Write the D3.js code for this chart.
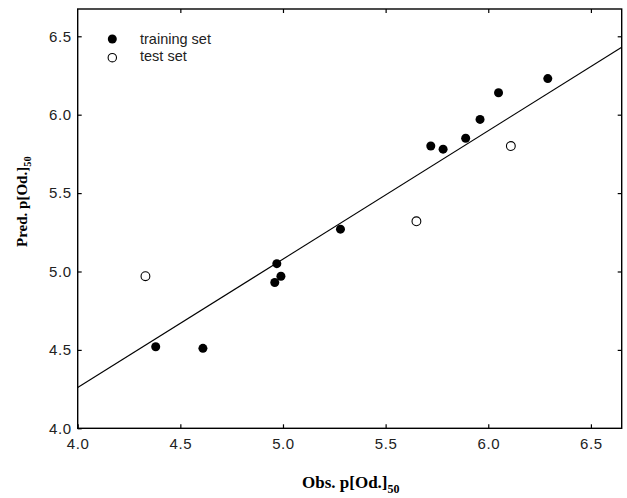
<!DOCTYPE html>
<html>
<head>
<meta charset="utf-8">
<script src="https://cdn.jsdelivr.net/npm/d3@7"></script>
<style>
	body { margin: 0; background: #fff; }
	svg { display: block; }
</style>
</head>
<body>
<svg width="627" height="498"></svg>
<script>
// training set (filled)
var trainObs = [4.38, 4.61, 4.96, 4.97, 4.99, 5.28, 5.72, 5.78, 5.89, 5.96, 6.05, 6.29];
var trainPred = [4.52, 4.51, 4.93, 5.05, 4.97, 5.27, 5.80, 5.78, 5.85, 5.97, 6.14, 6.23];
// test set (open)
var testObs = [4.33, 5.65, 6.11];
var testPred = [4.97, 5.32, 5.80];
// regression line end points
var fitObs = [4.0, 6.65];
var fitPred = [4.26, 6.43];
var xTicks = [4.0, 4.5, 5.0, 5.5, 6.0, 6.5];
var yTicks = [4.0, 4.5, 5.0, 5.5, 6.0, 6.5];
var legendLabels = ["training set", "test set"];

function drawChart() {
	var svg = d3.select("svg"),
		margin = { top: 9, right: 5.3, bottom: 69.7, left: 77.7 },
		width = +svg.attr("width") - margin.left - margin.right,
		height = +svg.attr("height") - margin.top - margin.bottom,
		g = svg.append("g").attr("transform", "translate(" + margin.left + "," + margin.top + ")");

	var x = d3.scaleLinear().domain([4.0, 6.65]).range([0, width]);
	var y = d3.scaleLinear().domain([4.0, 6.674]).range([height, 0]);
	var fmt = d3.format(".1f");

	// axes, ticks pointing inward
	var bottom = g.append("g")
		.attr("transform", "translate(0," + height + ")")
		.call(d3.axisBottom(x).tickValues(xTicks).tickFormat(fmt).tickSizeInner(-4).tickSizeOuter(0).tickPadding(10));
	var left = g.append("g")
		.call(d3.axisLeft(y).tickValues(yTicks).tickFormat(fmt).tickSizeInner(-4).tickSizeOuter(0).tickPadding(6));
	var top = g.append("g")
		.call(d3.axisTop(x).tickValues(xTicks.slice(1)).tickFormat("").tickSizeInner(-4).tickSizeOuter(0));
	var right = g.append("g")
		.attr("transform", "translate(" + width + ",0)")
		.call(d3.axisRight(y).tickValues(yTicks.slice(1)).tickFormat("").tickSizeInner(-4).tickSizeOuter(0));

	[bottom, left, top, right].forEach(function (a) {
		a.select(".domain").remove();
		a.selectAll("line").attr("stroke", "#000").attr("stroke-width", 1.2);
		a.selectAll("text")
			.attr("fill", "#222")
			.attr("font-family", "'Liberation Sans', Arial, sans-serif")
			.attr("font-size", "15px")
			.attr("letter-spacing", "0.6px");
	});

	// frame
	g.append("rect")
		.attr("width", width)
		.attr("height", height)
		.attr("fill", "none")
		.attr("stroke", "#000")
		.attr("stroke-width", 1.4);

	// fit line
	var line = d3.line()
		.x(function (d) { return x(d[0]) })
		.y(function (d) { return y(d[1]) });
	g.append("path")
		.datum(d3.zip(fitObs, fitPred))
		.attr("fill", "none")
		.attr("stroke", "#000")
		.attr("stroke-width", 1.1)
		.attr("d", line);

	// training points
	g.selectAll()
		.data(d3.zip(trainObs, trainPred))
		.enter()
		.append("circle")
		.attr("cx", function (d) { return x(d[0]) })
		.attr("cy", function (d) { return y(d[1]) })
		.attr("r", 4.5)
		.attr("fill", "#000");

	// test points
	g.selectAll()
		.data(d3.zip(testObs, testPred))
		.enter()
		.append("circle")
		.attr("cx", function (d) { return x(d[0]) })
		.attr("cy", function (d) { return y(d[1]) })
		.attr("r", 4.4)
		.attr("fill", "#fff")
		.attr("stroke", "#000")
		.attr("stroke-width", 1.1);

	// legend
	var leg = svg.append("g");
	leg.append("circle").attr("cx", 112.3).attr("cy", 39).attr("r", 4.5).attr("fill", "#000");
	leg.append("circle").attr("cx", 112.3).attr("cy", 57.7).attr("r", 4.2)
		.attr("fill", "#fff").attr("stroke", "#000").attr("stroke-width", 1.1);
	leg.selectAll()
		.data(legendLabels)
		.enter()
		.append("text")
		.attr("x", 140)
		.attr("y", function (d, i) { return 43.5 + i * 17.7 })
		.attr("font-family", "'Liberation Sans', Arial, sans-serif")
		.attr("font-size", "14.5px")
		.attr("fill", "#222")
		.text(function (d) { return d });

	// axis titles
	var xt = svg.append("text")
		.attr("x", 302)
		.attr("y", 488)
		.attr("font-family", "'Liberation Serif', 'Times New Roman', serif")
		.attr("font-weight", "bold")
		.attr("font-size", "17px");
	xt.append("tspan").text("Obs. p[Od.]");
	xt.append("tspan").attr("font-size", "12px").attr("dy", 5).text("50");

	var yt = svg.append("text")
		.attr("transform", "translate(27,247) rotate(-90)")
		.attr("font-family", "'Liberation Serif', 'Times New Roman', serif")
		.attr("font-weight", "bold")
		.attr("font-size", "15px");
	yt.append("tspan").text("Pred. p[Od.]");
	yt.append("tspan").attr("font-size", "10.5px").attr("dy", 4).text("50");
}

drawChart();
</script>
</body>
</html>
